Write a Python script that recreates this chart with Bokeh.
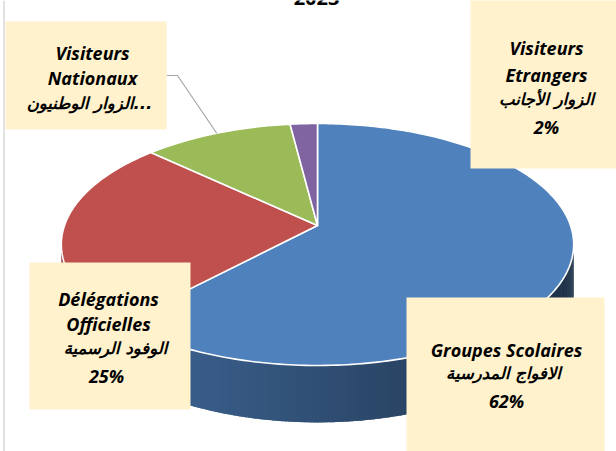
import numpy as np
from bokeh.plotting import figure
from bokeh.models import Range1d
from bokeh.core.properties import value
from bokeh.embed import file_html
from bokeh.resources import INLINE

# ---------------- data ----------------
categories = ["Groupes Scolaires", "Délégations Officielles", "Visiteurs Nationaux", "Visiteurs Etrangers"]
arabic = ["الافواج المدرسية", "الوفود الرسمية", "الزوار الوطنيون", "الزوار الأجانب"]
values = [62, 25, 11, 2]
colors = ["#4F81BD", "#C0504D", "#9BBB59", "#8064A2"]
title_text = "2023"

# ---------------- figure (coordinates = reference pixels) ----------------
W, H = 616, 451
p = figure(width=W, height=H, output_backend="svg", toolbar_location=None,
           x_range=Range1d(0, W), y_range=Range1d(H, 0), min_border=0)
p.axis.visible = False
p.grid.visible = False
p.outline_line_color = None
p.background_fill_color = "white"
p.border_fill_color = "white"

# chart-area border at the left
p.line([3.5, 3.5], [0, H], line_color="#D9D9D9", line_width=1.5)

# 3D pie geometry (perspective-projected disc)
CX, CY = 317.0, 225.0
B, A, K, D0 = 253.0, 118.0, 0.157, 48.0


def proj(theta_deg, drop=0.0):
    t = np.radians(theta_deg)
    u = np.sin(t)
    v = -np.cos(t)
    s = 1.0 / (1.0 - K * v)
    return CX + B * u * s, CY + A * v * s + D0 * s * drop


total = float(sum(values))
bounds = np.concatenate([[0.0], np.cumsum(values) / total * 360.0])

vis_a = np.degrees(np.arccos(-K))
vis_b = 360.0 - vis_a


def hex2rgb(h):
    h = h.lstrip("#")
    return np.array([int(h[i:i + 2], 16) for i in (0, 2, 4)], dtype=float)


# ---- sides (outer wall, front half) ----
sx, sy, sc = [], [], []
for i, col in enumerate(colors):
    a, b = max(bounds[i], vis_a), min(bounds[i + 1], vis_b)
    if b <= a:
        continue
    base = hex2rgb(col)
    n = max(2, int((b - a) / 0.6))
    th = np.linspace(a, b, n + 1)
    step = th[1] - th[0]
    for j in range(n):
        t0 = th[j]
        t1 = min(th[j + 1] + step * 0.8, b)
        x0, y0 = proj(t0)
        x1, y1 = proj(t1)
        x2, y2 = proj(t1, 1.0)
        x3, y3 = proj(t0, 1.0)
        xm = 0.5 * (x0 + x1)
        t = np.clip((xm - (CX - B)) / (2 * B), 0, 1)
        f = 0.84 - 0.45 * t
        c = np.clip(base * f, 0, 255).astype(int)
        sx.append([x0, x1, x2, x3])
        sy.append([y0, y1, y2, y3])
        sc.append("#%02x%02x%02x" % tuple(c))
p.patches(sx, sy, fill_color=sc, line_color=None)

# ---- top faces ----
tx, ty = [], []
for i in range(len(values)):
    th = np.linspace(bounds[i], bounds[i + 1], max(3, int(bounds[i + 1] - bounds[i]) + 2))
    xs, ys = proj(th)
    tx.append([CX] + list(xs))
    ty.append([CY] + list(ys))
p.patches(tx, ty, fill_color=colors, line_color="white", line_width=1.6, line_join="round")

# ---- leader line for Visiteurs Nationaux ----
mid_nat = 0.5 * (bounds[2] + bounds[3])
ex, ey = proj(mid_nat)
p.line([166, 177, ex], [75, 75, ey], line_color="#A6A6A6", line_width=1.2)

# ---- label boxes ----
box_l = [406, 29, 5, 470]
box_r = [604, 190, 166, 625]
box_t = [297, 262, 21, -2]
box_b = [460, 409, 129, 168]
p.quad(left=box_l, right=box_r, top=box_t, bottom=box_b, fill_color="#FFF2CC", line_color=None)

# ---- label texts ----
pct = [f"{v}%" for v in values]
lat_x, lat_y, lat_t = [], [], []
ar_x, ar_y, ar_t = [], [], []
# Groupes Scolaires
lat_x += [506, 506]; lat_y += [349, 400]; lat_t += [categories[0], pct[0]]
ar_x += [503]; ar_y += [373]; ar_t += [arabic[0]]
# Délégations Officielles
w1, w2 = categories[1].split(" ")
lat_x += [108, 108, 106]; lat_y += [298, 323, 375]; lat_t += [w1, w2, pct[1]]
ar_x += [115]; ar_y += [348]; ar_t += [arabic[1]]
# Visiteurs Nationaux (truncated label)
w1, w2 = categories[2].split(" ")
lat_x += [92, 92]; lat_y += [52, 77]; lat_t += [w1, w2]
ar_x += [89]; ar_y += [103]; ar_t += [arabic[2] + "..."]
# Visiteurs Etrangers
w1, w2 = categories[3].split(" ")
lat_x += [546, 546, 546]; lat_y += [47, 74, 126]; lat_t += [w1, w2, pct[3]]
ar_x += [546]; ar_y += [99]; ar_t += [arabic[3]]

p.text(lat_x, lat_y, text=lat_t, text_font=value("Open Sans"), text_font_style="bold italic",
       text_font_size="18px", text_align="center", text_baseline="middle", text_color="black")
p.text(ar_x, ar_y, text=ar_t, text_font=value("DejaVu Sans"), text_font_style="bold italic",
       text_font_size="16.5px", text_align="center", text_baseline="middle", text_color="black")

# title (cut off at the top in the reference)
p.text([316], [4.5], text=[title_text], text_font=value("Open Sans"), text_font_style="bold",
       text_font_size="20px", text_align="center", text_baseline="bottom", text_color="black")

open("out.html", "w").write(file_html(p, INLINE))
